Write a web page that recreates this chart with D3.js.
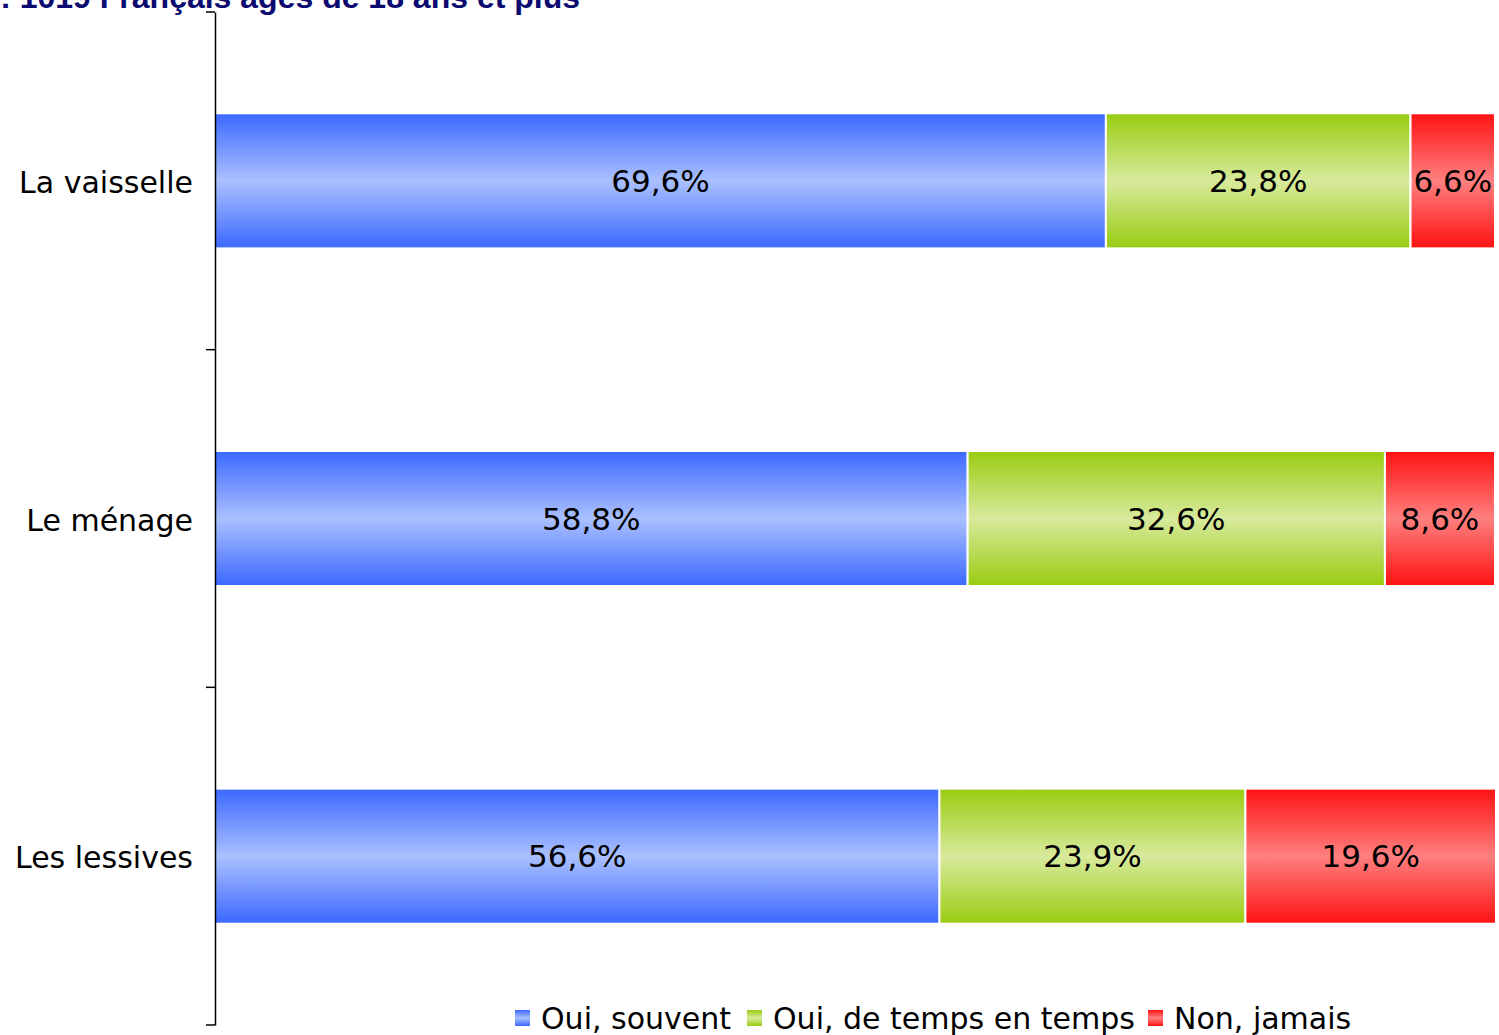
<!DOCTYPE html>
<html><head><meta charset="utf-8">
<script src="https://cdn.jsdelivr.net/npm/d3@7"></script>
<style>body{margin:0;background:#fff}svg{display:block}</style>
</head><body>
<script>
const categories = ["La vaisselle", "Le ménage", "Les lessives"];
const seriesNames = ["Oui, souvent", "Oui, de temps en temps", "Non, jamais"];
const souvent = [69.6, 58.8, 56.6];
const deTempsEnTemps = [23.8, 32.6, 23.9];
const jamais = [6.6, 8.6, 19.6];
const titleText = "Base : 1019 Français âgés de 18 ans et plus";

const W = 1499, H = 1035;
const svg = d3.select("body").append("svg").attr("width", W).attr("height", H);
const defs = svg.append("defs");
const grads = [
  {id:"gBlue", edge:"#3b68ff", mid:"#aac0ff"},
  {id:"gGreen", edge:"#99cc11", mid:"#d8ea9c"},
  {id:"gRed", edge:"#ff1212", mid:"#ff7f7f"}
];
grads.forEach(g => {
  const lg = defs.append("linearGradient").attr("id", g.id).attr("x1",0).attr("y1",0).attr("x2",0).attr("y2",1);
  lg.append("stop").attr("offset","0%").attr("stop-color",g.edge);
  lg.append("stop").attr("offset","50%").attr("stop-color",g.mid);
  lg.append("stop").attr("offset","100%").attr("stop-color",g.edge);
});

const x = d3.scaleLinear().domain([0,100]).range([215,1495]);
const y = d3.scaleBand().domain(categories).range([12,1025]).paddingInner(0.6).paddingOuter(0.3);

const series = [souvent, deTempsEnTemps, jamais];
const data = categories.map((c,i) => {
  const o = {cat:c}; seriesNames.forEach((s,j)=> o[s]=series[j][i]); return o;
});
const stacked = d3.stack().keys(seriesNames)(data);

const g = svg.append("g");
stacked.forEach((layer, j) => {
  g.selectAll(null).data(layer).enter().append("rect")
    .attr("x", d => x(d[0]))
    .attr("y", d => y(d.data.cat))
    .attr("width", d => Math.min(x(d[1]), 1496) - x(d[0]))
    .attr("height", y.bandwidth())
    .attr("fill", `url(#${grads[j].id})`)
    .attr("stroke", "#fff").attr("stroke-width", 2);
  g.selectAll(null).data(layer).enter().append("text")
    .attr("x", d => (x(d[0]) + Math.min(x(d[1]),1496)) / 2)
    .attr("y", d => y(d.data.cat) + y.bandwidth()/2)
    .attr("dy", "0.36em")
    .attr("text-anchor","middle")
    .attr("font-family","DejaVu Sans").attr("font-size", 31).attr("fill","#000")
    .text(d => (d[1]-d[0]).toFixed(1).replace(".", ",") + "%");
});

// axis
const bandScale = d3.scaleBand().domain(categories).range([12,1025]);
const axis = svg.append("g").attr("transform","translate(215,0)")
  .call(d3.axisLeft(bandScale).tickSize(0).tickPadding(22));
axis.select(".domain").attr("stroke","#000").attr("stroke-width",1.5);
axis.selectAll(".tick text").attr("font-family","DejaVu Sans").attr("font-size",30).attr("fill","#000").attr("dy","0.4em");
// boundary ticks
const bounds = [12].concat(categories.map(c => bandScale(c) + bandScale.bandwidth()));
svg.append("g").selectAll("line").data(bounds).enter().append("line")
  .attr("x1",206).attr("x2",215).attr("y1",d=>d).attr("y2",d=>d)
  .attr("stroke","#000").attr("stroke-width",1.5);

// title
svg.append("text").attr("x",580).attr("y",8).attr("text-anchor","end")
  .attr("font-family","Liberation Sans").attr("font-weight","bold").attr("font-size",32)
  .attr("fill","#0a0a70").text(titleText);

// legend
const legX = [515, 747, 1148];
const leg = svg.append("g");
seriesNames.forEach((s,j) => {
  leg.append("rect").attr("x",legX[j]).attr("y",1010).attr("width",15).attr("height",16)
    .attr("fill",`url(#${grads[j].id})`);
  leg.append("text").attr("x",legX[j]+26).attr("y",1029)
    .attr("font-family","DejaVu Sans").attr("font-size",30).attr("fill","#000").text(s);
});
</script>
</body></html>
